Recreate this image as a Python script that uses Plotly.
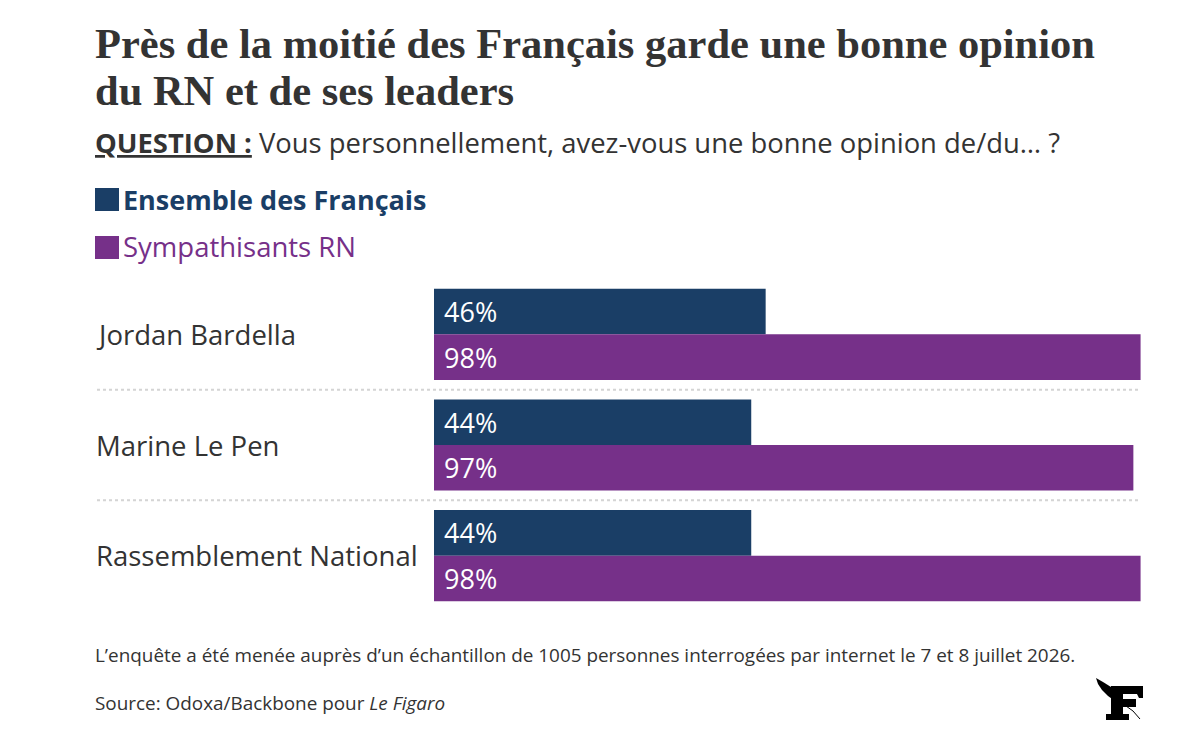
import plotly.graph_objects as go

# data
categories = ["Jordan Bardella", "Marine Le Pen", "Rassemblement National"]
ensemble = [46, 44, 44]
sympathisants = [98, 97, 98]
series_names = ["Ensemble des Français", "Sympathisants RN"]

W, H = 1194, 752
OFF = 8  # page margin of the browser
BLUE = "#1a3e66"
PURPLE = "#763089"
TXT = "#333333"
SANS = "Open Sans, sans-serif"
SERIF = "Liberation Serif, Times New Roman, serif"


def px(x):
    return (x - OFF) / W


def py(y):
    return 1 - (y - OFF) / H


def path(pts, close=True):
    s = "M " + " L ".join(f"{px(x):.5f},{py(y):.5f}" for x, y in pts)
    return s + (" Z" if close else "")


fig = go.Figure()
fig.add_trace(go.Bar(
    y=categories, x=ensemble, orientation="h", name=series_names[0],
    marker=dict(color=BLUE, line=dict(width=0)),
    text=[f" {v}%" for v in ensemble], textposition="inside",
    insidetextanchor="start", textfont=dict(family=SANS, size=27, color="white"),
    hoverinfo="skip",
))
fig.add_trace(go.Bar(
    y=categories, x=sympathisants, orientation="h", name=series_names[1],
    marker=dict(color=PURPLE, line=dict(width=0)),
    text=[f" {v}%" for v in sympathisants], textposition="inside",
    insidetextanchor="start", textfont=dict(family=SANS, size=27, color="white"),
    hoverinfo="skip",
))

ann = []
# title
ann.append(dict(x=px(93), y=py(44), xref="paper", yref="paper", xanchor="left", yanchor="middle",
                text="<b>Près de la moitié des Français garde une bonne opinion</b>", showarrow=False,
                font=dict(family=SERIF, size=42.5, color=TXT)))
ann.append(dict(x=px(93), y=py(91), xref="paper", yref="paper", xanchor="left", yanchor="middle",
                text="<b>du RN et de ses leaders</b>", showarrow=False,
                font=dict(family=SERIF, size=42.5, color=TXT)))
ann.append(dict(x=px(93), y=py(142), xref="paper", yref="paper", xanchor="left", yanchor="middle",
                text="<u><b>QUESTION :</b></u> Vous personnellement, avez-vous une bonne opinion de/du… ?",
                showarrow=False, font=dict(family=SANS, size=27.4, color=TXT)))
# legend
ann.append(dict(x=px(121), y=py(200), xref="paper", yref="paper", xanchor="left", yanchor="middle",
                text=f"<b>{series_names[0]}</b>", showarrow=False,
                font=dict(family=SANS, size=27, color=BLUE)))
ann.append(dict(x=px(121), y=py(247), xref="paper", yref="paper", xanchor="left", yanchor="middle",
                text=series_names[1], showarrow=False,
                font=dict(family=SANS, size=27.5, color=PURPLE)))
# category labels
for c in categories:
    ann.append(dict(x=px(94), y=c, xref="paper", yref="y", xanchor="left", yanchor="middle",
                    text=c, showarrow=False, font=dict(family=SANS, size=27.5, color=TXT)))
# footer
ann.append(dict(x=px(93), y=py(655), xref="paper", yref="paper", xanchor="left", yanchor="middle",
                text="L’enquête a été menée auprès d’un échantillon de 1005 personnes interrogées par internet le 7 et 8 juillet 2026.",
                showarrow=False, font=dict(family=SANS, size=18.9, color=TXT)))
ann.append(dict(x=px(93), y=py(703), xref="paper", yref="paper", xanchor="left", yanchor="middle",
                text="Source: Odoxa/Backbone pour <i>Le Figaro</i>",
                showarrow=False, font=dict(family=SANS, size=18.9, color=TXT)))

shapes = [
    dict(type="rect", xref="paper", yref="paper", x0=px(95), x1=px(119), y0=py(188), y1=py(211),
         fillcolor=BLUE, line=dict(width=0)),
    dict(type="rect", xref="paper", yref="paper", x0=px(95), x1=px(119), y0=py(236), y1=py(259),
         fillcolor=PURPLE, line=dict(width=0)),
]
for b in [0.5, 1.5]:
    shapes.append(dict(type="line", xref="paper", yref="y", x0=px(97), x1=px(1141), y0=b, y1=b,
                       line=dict(color="#d4d4d4", width=2, dash="dot")))

# Le Figaro logo (F + feather)
logo = [
    [(1111, 686), (1143, 686), (1143, 698), (1139, 698), (1137, 694), (1123, 694), (1123, 699),
     (1136, 699), (1136, 707), (1123, 707), (1123, 714), (1129, 714), (1129, 720), (1106, 720),
     (1106, 714), (1111, 714)],
    [(1096, 678), (1103, 682), (1111, 687), (1117, 692), (1121, 698), (1121, 704), (1115, 701),
     (1108, 696), (1102, 690), (1098, 684)],
]
for pts in logo:
    shapes.append(dict(type="path", xref="paper", yref="paper", path=path(pts),
                       fillcolor="black", line=dict(width=0)))
shapes.append(dict(type="path", xref="paper", yref="paper",
                   path=path([(1126, 706), (1133, 711), (1140, 719)], close=False),
                   line=dict(color="black", width=1)))

fig.update_layout(
    width=W, height=H,
    margin=dict(l=0, r=0, t=0, b=0),
    paper_bgcolor="white", plot_bgcolor="white",
    barmode="group", bargap=0.176, bargroupgap=0,
    showlegend=False,
    xaxis=dict(domain=[px(434), px(1155)], range=[0, 100], visible=False, fixedrange=True),
    yaxis=dict(domain=[py(611), py(279)], autorange="reversed", visible=False, fixedrange=True),
    annotations=ann, shapes=shapes,
    uniformtext=dict(mode="show", minsize=10),
)

fig.write_html("out.html")
